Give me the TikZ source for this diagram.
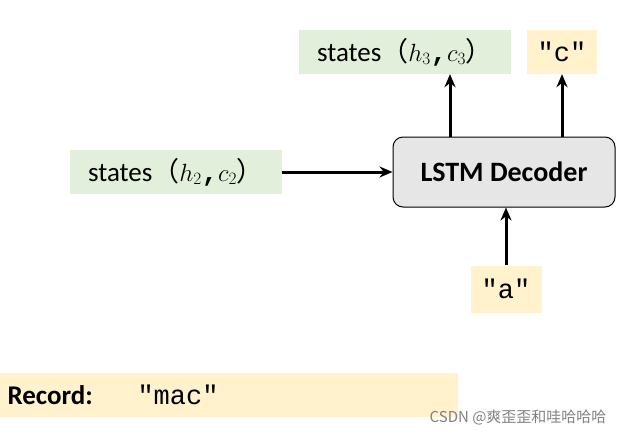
\documentclass[tikz,border=0pt]{standalone}
\usetikzlibrary{arrows.meta}
\usepackage{fontspec}
\setmainfont{Carlito}
\setmonofont{Liberation Mono}
\newfontfamily\cjk{Noto Sans CJK SC}
\definecolor{gfill}{HTML}{E2EFDA}
\definecolor{yfill}{HTML}{FFF2CC}
\definecolor{dfill}{HTML}{E7E6E6}
\begin{document}
\begin{tikzpicture}[x=1pt,y=-1pt,
  gbox/.style={fill=gfill,inner sep=0,minimum height=44pt,font=\fontsize{27}{29}\selectfont},
  ybox/.style={fill=yfill,inner sep=0,minimum height=44pt,font=\ttfamily\fontsize{27}{29}\selectfont},
  arr/.style={-{Stealth[length=13pt,width=11pt]},line width=3pt}]
\useasboundingbox (0,0) rectangle (624,437);
\node[draw,line width=1pt,fill=dfill,rounded corners=10pt,minimum width=222pt,minimum height=70pt,font=\bfseries\fontsize{28}{30}\selectfont] (dec) at (504,172) {LSTM Decoder};
\node[gbox,minimum width=212pt] (s2) at (176,172) {states{\cjk（}$h_2${\ttfamily\bfseries,}$c_2${\cjk）}};
\node[gbox,minimum width=212pt] (s3) at (405,52) {states{\cjk（}$h_3${\ttfamily\bfseries,}$c_3${\cjk）}};
\node[ybox,minimum width=70pt] (c) at (562,52) {"c"};
\node[ybox,minimum width=71pt,minimum height=47pt] (a) at (506,289) {"a"};
\coordinate (t1) at (450,137);
\draw[arr] (s2.east) -- (dec.west);
\draw[arr] (t1) -- (t1 |- s3.south);
\draw[arr] (dec.north -| c) -- (c.south);
\draw[arr] (a.north) -- (a.north |- dec.south);
\node[fill=yfill,minimum width=458pt,minimum height=44pt,inner sep=0] (rec) at (229,395) {};
\node[anchor=west,font=\bfseries\fontsize{27}{29}\selectfont] (rl) at (4,395) {Record:};
\node[anchor=west,font=\ttfamily\fontsize{27}{29}\selectfont] (rv) at (134,395) {"mac"};
\node[anchor=east,text=gray,font=\cjk\fontsize{15}{17}\selectfont] (wm) at (610,418) {CSDN @爽歪歪和哇哈哈哈};
\end{tikzpicture}
\end{document}
